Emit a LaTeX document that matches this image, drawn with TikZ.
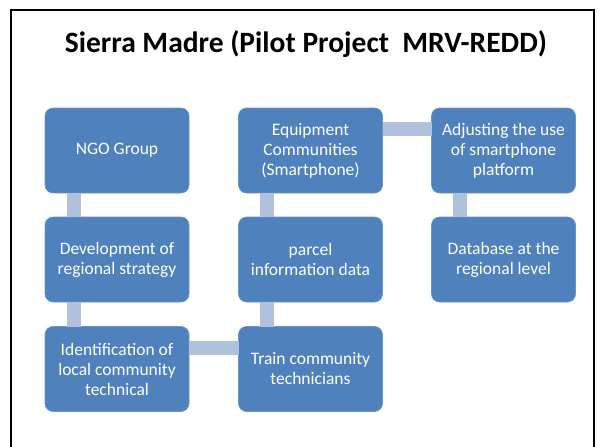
\documentclass[tikz,border=0pt]{standalone}
\usepackage{fontspec}
\setmainfont{Carlito}
\definecolor{boxblue}{HTML}{4F81BD}
\definecolor{barblue}{HTML}{B0C1DE}
\begin{document}
\begin{tikzpicture}[x=1pt,y=-1pt,
  stepbox/.style={rectangle, rounded corners=8pt, fill=boxblue, draw=boxblue!85!white, line width=0.6pt,
    minimum width=144pt, minimum height=85pt, inner sep=2pt, outer sep=0pt,
    text=white, align=center, font=\fontsize{17.5}{20}\selectfont},
  bar/.style={draw=barblue, line width=14pt},
  titlestyle/.style={font=\bfseries\fontsize{29.5}{34}\selectfont, inner sep=0pt}]
\useasboundingbox (0,0) rectangle (600,447);
\fill[white] (0,0) rectangle (600,447);
\draw[line width=2pt] (11,447) -- (11,10) -- (594,10) -- (594,447);
\node[titlestyle] (title) at (306,44) {Sierra Madre (Pilot Project\ \ MRV-REDD)};
% column 1
\node[stepbox] (ngo) at (117,150.5) {NGO Group};
\node[stepbox] (dev) at (117,259.5) {Development of\\regional strategy};
\node[stepbox] (ident) at (117,369) {Identification of\\local community\\technical};
% column 2
\node[stepbox] (equip) at (310.5,150.5) {Equipment\\Communities\\(Smartphone)};
\node[stepbox] (parcel) at (310.5,259.5) {parcel\\information data};
\node[stepbox] (train) at (310.5,369) {Train community\\technicians};
% column 3
\node[stepbox] (adjust) at (503.5,150.5) {Adjusting the use\\of smartphone\\platform};
\node[stepbox] (db) at (503.5,259.5) {Database at the\\regional level};
% connectors
\draw[bar] ([xshift=28.5pt]ngo.south west) -- ([xshift=28.5pt]dev.north west);
\draw[bar] ([xshift=28.5pt]dev.south west) -- ([xshift=28.5pt]ident.north west);
\draw[bar] ([yshift=-21pt]ident.north east) -- ([yshift=-21pt]train.north west);
\draw[bar] ([xshift=28.5pt]train.north west) -- ([xshift=28.5pt]parcel.south west);
\draw[bar] ([xshift=28.5pt]parcel.north west) -- ([xshift=28.5pt]equip.south west);
\draw[bar] ([yshift=-21pt]equip.north east) -- ([yshift=-21pt]adjust.north west);
\draw[bar] ([xshift=28.5pt]adjust.south west) -- ([xshift=28.5pt]db.north west);
\end{tikzpicture}
\end{document}
